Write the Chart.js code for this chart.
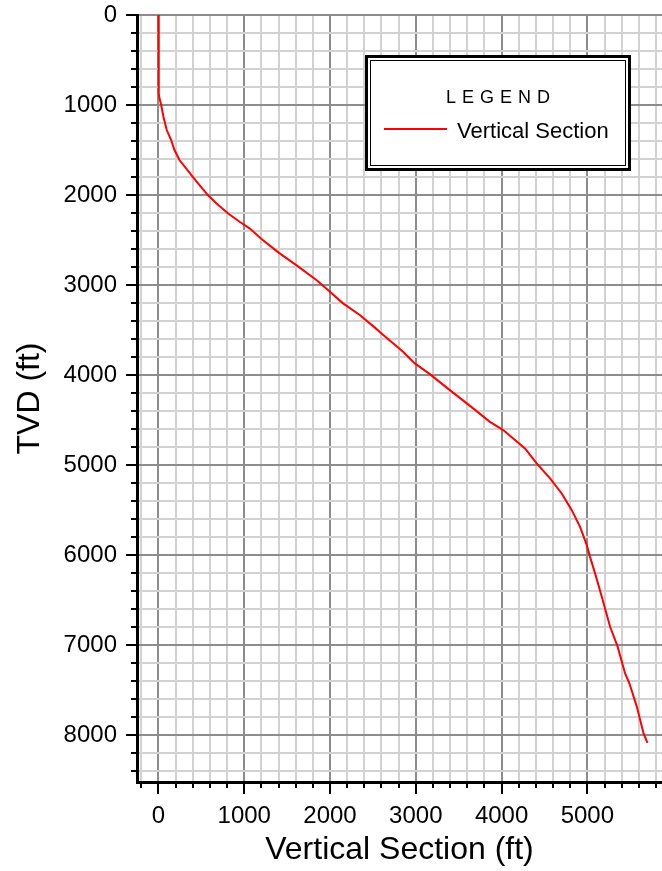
<!DOCTYPE html>
<html>
<head>
<meta charset="utf-8">
<title>Vertical Section</title>
<script src="https://cdn.jsdelivr.net/npm/chart.js@4.4.1/dist/chart.umd.min.js"></script>
<style>
  html, body { margin: 0; padding: 0; background: #fff; }
  canvas { display: block; }
</style>
</head>
<body>
<canvas id="vs" width="662" height="871"></canvas>
<script>
// well path: vertical section (ft) against true vertical depth (ft)
var vertSection = [0, 2, 5, 12, 32, 58, 97, 148, 187, 245, 323, 400, 479, 576, 674, 809, 946,
  1062, 1205, 1413, 1607, 1841, 1976, 2152, 2347, 2520, 2600, 2852, 2989, 3164, 3397, 3669,
  3864, 4019, 4136, 4273, 4409, 4565, 4701, 4818, 4915, 4993, 5031, 5102, 5168, 5265, 5351,
  5440, 5491, 5577, 5655, 5700];
var tvd = [0, 500, 870, 926, 1000, 1130, 1278, 1389, 1500, 1611, 1703, 1797, 1889, 2000, 2092,
  2203, 2297, 2370, 2490, 2648, 2778, 2944, 3056, 3203, 3333, 3470, 3537, 3741, 3870, 3989,
  4167, 4370, 4519, 4611, 4704, 4815, 4981, 5148, 5315, 5500, 5685, 5889, 6019, 6241, 6463,
  6796, 7011, 7315, 7426, 7685, 7981, 8085];

var seriesName = 'Vertical Section';
var legendTitle = 'LEGEND';
var xLabels = [0, 1000, 2000, 3000, 4000, 5000];
var yLabels = [0, 1000, 2000, 3000, 4000, 5000, 6000, 7000, 8000];
var minorStep = 200;

var FONT = "'Liberation Sans', Arial, sans-serif";

var points = vertSection.map(function (v, i) { return { x: v, y: tvd[i] }; });

function isMajor(v, labels) { return labels.indexOf(v) >= 0; }

function gridTicks(scale) {
  var out = [];
  var start = Math.ceil(scale.min / minorStep) * minorStep;
  for (var v = start; v <= scale.max; v += minorStep) out.push({ value: v });
  scale.ticks = out;
}

// keep the plot area edges where the layout padding puts them
function noEdgePadding(s) {
  s.paddingTop = 0; s.paddingBottom = 0;
  s.paddingLeft = 0; s.paddingRight = 0;
}

// black tick marks on the axes, long for labelled values, short otherwise
var axisTicks = {
  id: 'axisTicks',
  afterDraw: function (chart) {
    var ctx = chart.ctx, area = chart.chartArea;
    var xs = chart.scales.x, ys = chart.scales.y;
    ctx.save();
    ctx.strokeStyle = '#000';
    ctx.lineWidth = 2;
    ctx.beginPath();
    xs.ticks.forEach(function (t) {
      var px = Math.round(xs.getPixelForValue(t.value));
      var len = isMajor(t.value, xLabels) ? 12 : 6;
      ctx.moveTo(px, area.bottom);
      ctx.lineTo(px, area.bottom + len);
    });
    ys.ticks.forEach(function (t) {
      var py = Math.round(ys.getPixelForValue(t.value));
      var len = isMajor(t.value, yLabels) ? 11 : 6;
      ctx.moveTo(area.left, py);
      ctx.lineTo(area.left - len, py);
    });
    ctx.stroke();
    ctx.restore();
  }
};

// boxed legend with a double frame
var boxLegend = {
  id: 'boxLegend',
  afterDatasetsDraw: function (chart) {
    var ctx = chart.ctx, area = chart.chartArea;
    var ds = chart.data.datasets[0];
    var bx = area.left + 228, by = area.top + 40, bw = 266, bh = 116;
    ctx.save();
    ctx.fillStyle = '#fff';
    ctx.fillRect(bx, by, bw, bh);
    ctx.strokeStyle = '#000';
    ctx.lineWidth = 3;
    ctx.strokeRect(bx + 1.5, by + 1.5, bw - 3, bh - 3);
    ctx.lineWidth = 1;
    ctx.strokeRect(bx + 5.5, by + 5.5, bw - 11, bh - 11);

    ctx.fillStyle = '#000';
    ctx.font = '18px ' + FONT;
    ctx.textBaseline = 'middle';
    ctx.textAlign = 'center';
    if ('letterSpacing' in ctx) ctx.letterSpacing = '6px';
    ctx.fillText(legendTitle, bx + bw / 2 + 3, by + 43);
    if ('letterSpacing' in ctx) ctx.letterSpacing = '0px';

    ctx.strokeStyle = ds.borderColor;
    ctx.lineWidth = 2;
    ctx.beginPath();
    ctx.moveTo(bx + 19, by + 74);
    ctx.lineTo(bx + 82, by + 74);
    ctx.stroke();

    ctx.textAlign = 'left';
    ctx.font = '22px ' + FONT;
    ctx.fillText(ds.label, bx + 92, by + 77);
    ctx.restore();
  }
};

new Chart(document.getElementById('vs'), {
  type: 'scatter',
  data: {
    datasets: [{
      label: seriesName,
      data: points,
      showLine: true,
      borderColor: '#ff0000',
      borderWidth: 2,
      pointRadius: 0,
      tension: 0
    }]
  },
  options: {
    responsive: false,
    animation: false,
    devicePixelRatio: 1,
    layout: { padding: { top: 15, left: 0, right: 0, bottom: 0 } },
    plugins: {
      legend: { display: false },
      tooltip: { enabled: false }
    },
    scales: {
      x: {
        type: 'linear',
        min: -250,
        max: 5870,
        afterBuildTicks: gridTicks,
        afterFit: function (s) { s.height = 89; noEdgePadding(s); },
        grid: {
          color: function (c) { return isMajor(c.tick.value, xLabels) ? '#8c8c8c' : '#d2d2d2'; },
          lineWidth: 2,
          tickLength: 12,
          tickColor: 'rgba(0,0,0,0)'
        },
        border: { display: true, color: '#000', width: 3 },
        ticks: {
          autoSkip: false,
          maxRotation: 0,
          padding: 8,
          color: '#000',
          font: { family: FONT, size: 24 },
          callback: function (v) { return isMajor(v, xLabels) ? String(v) : ''; }
        },
        title: {
          display: true,
          text: 'Vertical Section (ft)',
          color: '#000',
          font: { family: FONT, size: 32 },
          padding: { top: 0, bottom: 2 }
        }
      },
      y: {
        type: 'linear',
        reverse: true,
        min: 0,
        max: 8520,
        afterBuildTicks: gridTicks,
        afterFit: function (s) { s.width = 137; noEdgePadding(s); },
        grid: {
          color: function (c) { return isMajor(c.tick.value, yLabels) ? '#8c8c8c' : '#d2d2d2'; },
          lineWidth: 2,
          tickLength: 12,
          tickColor: 'rgba(0,0,0,0)'
        },
        border: { display: true, color: '#000', width: 3 },
        ticks: {
          autoSkip: false,
          padding: 8,
          color: '#000',
          font: { family: FONT, size: 24 },
          callback: function (v) { return isMajor(v, yLabels) ? String(v) : ''; }
        },
        title: {
          display: true,
          text: 'TVD (ft)',
          color: '#000',
          font: { family: FONT, size: 32 },
          padding: { top: 11, bottom: 0 }
        }
      }
    }
  },
  plugins: [axisTicks, boxLegend]
});
</script>
</body>
</html>
